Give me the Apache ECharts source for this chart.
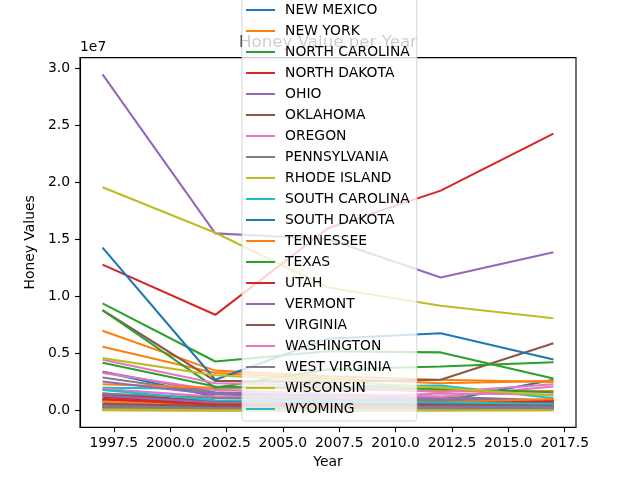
<!DOCTYPE html>
<html><head><meta charset="utf-8">
<script src="https://cdn.jsdelivr.net/npm/echarts@6/dist/echarts.min.js"></script>
<style>html,body{margin:0;padding:0;background:#fff}#c{width:640px;height:480px}</style>
</head><body><div id="c"></div><script>
const years = [1997, 2002, 2007, 2012, 2017];
const xTicks = [1997.5, 2000, 2002.5, 2005, 2007.5, 2010, 2012.5, 2015, 2017.5];
const yTicks = [0, 5e6, 10e6, 15e6, 20e6, 25e6, 30e6];
const states = ["ALABAMA","ALASKA","ARIZONA","ARKANSAS","CALIFORNIA","COLORADO","CONNECTICUT","DELAWARE","FLORIDA","GEORGIA","HAWAII","IDAHO","ILLINOIS","INDIANA","IOWA","KANSAS","KENTUCKY","LOUISIANA","MAINE","MARYLAND","MASSACHUSETTS","MICHIGAN","MINNESOTA","MISSISSIPPI","MISSOURI","MONTANA","NEBRASKA","NEVADA","NEW HAMPSHIRE","NEW JERSEY","NEW MEXICO","NEW YORK","NORTH CAROLINA","NORTH DAKOTA","OHIO","OKLAHOMA","OREGON","PENNSYLVANIA","RHODE ISLAND","SOUTH CAROLINA","SOUTH DAKOTA","TENNESSEE","TEXAS","UTAH","VERMONT","VIRGINIA","WASHINGTON","WEST VIRGINIA","WISCONSIN","WYOMING"];

// honey values per state (dollars), for the years above
const ALABAMA = [1.4e6, 0.7e6, 0.6e6, 0.5e6, 0.5e6];
const ALASKA = [0.02e6, 0.01e6, 0.01e6, 0.02e6, 0.02e6];
const ARIZONA = [1.0e6, 0.6e6, 0.5e6, 0.4e6, 0.3e6];
const ARKANSAS = [1.5e6, 0.8e6, 0.9e6, 0.7e6, 0.6e6];
const CALIFORNIA = [29.5e6, 15.55e6, 15.05e6, 11.67e6, 13.9e6];
const COLORADO = [1.3e6, 0.8e6, 0.7e6, 0.6e6, 0.6e6];
const CONNECTICUT = [0.2e6, 0.1e6, 0.1e6, 0.1e6, 0.2e6];
const DELAWARE = [0.05e6, 0.03e6, 0.03e6, 0.03e6, 0.05e6];
const FLORIDA = [19.6e6, 15.6e6, 10.8e6, 9.2e6, 8.1e6];
const GEORGIA = [2.0e6, 1.9e6, 2.1e6, 2.2e6, 1.08e6];
const HAWAII = [3.4e6, 1.2e6, 0.9e6, 0.8e6, 2.7e6];
const IDAHO = [7.0e6, 3.5e6, 3.0e6, 2.7e6, 2.5e6];
const ILLINOIS = [0.9e6, 0.5e6, 0.5e6, 0.4e6, 0.5e6];
const INDIANA = [0.9e6, 0.5e6, 0.6e6, 0.9e6, 0.9e6];
const IOWA = [3.4e6, 1.6e6, 1.3e6, 1.0e6, 0.8e6];
const KANSAS = [0.9e6, 0.5e6, 0.4e6, 0.5e6, 0.4e6];
const KENTUCKY = [0.7e6, 0.5e6, 0.4e6, 0.5e6, 0.6e6];
const LOUISIANA = [2.9e6, 1.5e6, 1.3e6, 1.2e6, 0.9e6];
const MAINE = [0.3e6, 0.2e6, 0.2e6, 0.3e6, 0.3e6];
const MARYLAND = [0.3e6, 0.2e6, 0.2e6, 0.2e6, 0.2e6];
const MASSACHUSETTS = [0.3e6, 0.2e6, 0.2e6, 0.2e6, 0.3e6];
const MICHIGAN = [5.6e6, 3.3e6, 2.8e6, 2.4e6, 2.6e6];
const MINNESOTA = [9.4e6, 4.3e6, 5.2e6, 5.1e6, 2.8e6];
const MISSISSIPPI = [1.2e6, 0.6e6, 0.6e6, 0.8e6, 0.75e6];
const MISSOURI = [1.3e6, 0.7e6, 0.6e6, 0.6e6, 0.5e6];
const MONTANA = [8.8e6, 2.6e6, 2.5e6, 2.7e6, 5.9e6];
const NEBRASKA = [3.3e6, 1.8e6, 1.5e6, 1.2e6, 2.1e6];
const NEVADA = [0.2e6, 0.1e6, 0.1e6, 0.1e6, 0.1e6];
const NEW_HAMPSHIRE = [0.1e6, 0.1e6, 0.1e6, 0.1e6, 0.1e6];
const NEW_JERSEY = [0.4e6, 0.3e6, 0.3e6, 0.3e6, 0.3e6];
const NEW_MEXICO = [0.5e6, 0.3e6, 0.3e6, 0.3e6, 0.2e6];
const NEW_YORK = [2.3e6, 2.0e6, 1.9e6, 1.7e6, 1.7e6];
const NORTH_CAROLINA = [8.8e6, 2.0e6, 3.6e6, 3.86e6, 4.24e6];
const NORTH_DAKOTA = [12.8e6, 8.4e6, 16.0e6, 19.3e6, 24.3e6];
const OHIO = [2.55e6, 1.4e6, 1.2e6, 1.0e6, 0.9e6];
const OKLAHOMA = [0.4e6, 0.3e6, 0.3e6, 0.3e6, 0.3e6];
const OREGON = [1.9e6, 1.2e6, 1.1e6, 1.5e6, 1.4e6];
const PENNSYLVANIA = [1.5e6, 1.1e6, 1.0e6, 0.9e6, 0.8e6];
const RHODE_ISLAND = [0.05e6, 0.03e6, 0.03e6, 0.03e6, 0.03e6];
const SOUTH_CAROLINA = [0.5e6, 0.3e6, 0.3e6, 0.4e6, 0.4e6];
const SOUTH_DAKOTA = [14.3e6, 2.7e6, 6.3e6, 6.78e6, 4.47e6];
const TENNESSEE = [0.8e6, 0.5e6, 0.6e6, 0.7e6, 1.0e6];
const TEXAS = [4.2e6, 2.1e6, 2.0e6, 1.9e6, 1.6e6];
const UTAH = [1.0e6, 0.5e6, 0.6e6, 0.6e6, 0.8e6];
const VERMONT = [0.5e6, 0.3e6, 0.3e6, 0.3e6, 0.3e6];
const VIRGINIA = [0.6e6, 0.4e6, 0.4e6, 0.5e6, 0.5e6];
const WASHINGTON = [4.45e6, 2.4e6, 2.2e6, 1.6e6, 2.3e6];
const WEST_VIRGINIA = [0.3e6, 0.2e6, 0.2e6, 0.2e6, 0.2e6];
const WISCONSIN = [4.6e6, 3.1e6, 2.6e6, 2.0e6, 1.3e6];
const WYOMING = [1.8e6, 0.9e6, 0.8e6, 0.7e6, 0.6e6];

const stateValues = [ALABAMA, ALASKA, ARIZONA, ARKANSAS, CALIFORNIA, COLORADO, CONNECTICUT, DELAWARE, FLORIDA, GEORGIA, HAWAII, IDAHO, ILLINOIS, INDIANA, IOWA, KANSAS, KENTUCKY, LOUISIANA, MAINE, MARYLAND, MASSACHUSETTS, MICHIGAN, MINNESOTA, MISSISSIPPI, MISSOURI, MONTANA, NEBRASKA, NEVADA, NEW_HAMPSHIRE, NEW_JERSEY, NEW_MEXICO, NEW_YORK, NORTH_CAROLINA, NORTH_DAKOTA, OHIO, OKLAHOMA, OREGON, PENNSYLVANIA, RHODE_ISLAND, SOUTH_CAROLINA, SOUTH_DAKOTA, TENNESSEE, TEXAS, UTAH, VERMONT, VIRGINIA, WASHINGTON, WEST_VIRGINIA, WISCONSIN, WYOMING];

const palette = ['#1f77b4','#ff7f0e','#2ca02c','#d62728','#9467bd','#8c564b','#e377c2','#7f7f7f','#bcbd22','#17becf'];
const FONT = 'DejaVu Sans';

let all = [];
stateValues.forEach(a => all = all.concat(a));
const dMin = Math.min(...all), dMax = Math.max(...all);
const pad = (dMax - dMin) * 0.05;
const xPad = (years[years.length - 1] - years[0]) * 0.05;

const series = states.map((name, i) => ({
  name: name,
  type: 'line',
  data: years.map((y, j) => [y, stateValues[i][j]]),
  showSymbol: false,
  symbol: 'none',
  color: palette[i % 10],
  lineStyle: { width: 2.08, color: palette[i % 10] },
  emphasis: { disabled: true },
  silent: true,
  z: 2
}));

const chart = echarts.init(document.getElementById('c'), null, { renderer: 'canvas' });
chart.setOption({
  animation: false,
  backgroundColor: '#fff',
  grid: { left: 80, right: 64, top: 57.6, bottom: 52.8, show: true, borderColor: '#000', borderWidth: 1.1, backgroundColor: 'transparent' },
  xAxis: {
    type: 'value',
    min: years[0] - xPad, max: years[years.length - 1] + xPad,
    name: 'Year', nameLocation: 'middle', nameGap: 27,
    nameTextStyle: { color: '#000', fontSize: 13.9, fontFamily: FONT },
    axisLine: { show: true, onZero: false, lineStyle: { color: '#000', width: 1.1 } },
    axisTick: { show: true, length: 5, lineStyle: { color: '#000', width: 1.1 }, customValues: xTicks },
    axisLabel: { color: '#000', fontSize: 13.9, fontFamily: FONT, margin: 9, customValues: xTicks, formatter: v => Number(v).toFixed(1) },
    splitLine: { show: false }
  },
  yAxis: {
    type: 'value',
    min: dMin - pad, max: dMax + pad,
    name: 'Honey Values', nameLocation: 'middle', nameGap: 38,
    nameTextStyle: { color: '#000', fontSize: 13.9, fontFamily: FONT },
    axisLine: { show: true, onZero: false, lineStyle: { color: '#000', width: 1.1 } },
    axisTick: { show: true, length: 5, lineStyle: { color: '#000', width: 1.1 }, customValues: yTicks },
    axisLabel: { color: '#000', fontSize: 13.9, fontFamily: FONT, margin: 10, customValues: yTicks, formatter: v => (v / 1e7).toFixed(1) },
    splitLine: { show: false }
  },
  graphic: [
    { type: 'text', x: 328, y: 43, z: 1, silent: true, style: { text: 'Honey Value per Year', fill: '#000', font: '16.67px "DejaVu Sans"', textAlign: 'center', textVerticalAlign: 'middle' } },
    { type: 'text', x: 80, y: 47, z: 1, silent: true, style: { text: '1e7', fill: '#000', font: '13.9px "DejaVu Sans"', textAlign: 'left', textVerticalAlign: 'middle' } }
  ],
  legend: {
    type: 'plain',
    orient: 'vertical',
    left: 242, top: -632, height: 1200,
    data: states,
    selectedMode: false,
    icon: 'rect',
    itemWidth: 29, itemHeight: 2, itemGap: 7,
    padding: [5, 7, 5, 4],
    backgroundColor: 'rgba(255,255,255,0.8)',
    borderColor: 'rgba(204,204,204,0.8)', borderWidth: 1, borderRadius: 3,
    textStyle: { color: '#000', fontSize: 13.9, fontFamily: FONT, lineHeight: 14, padding: [0, 0, 0, 5] },
    z: 10
  },
  series: series
});
</script></body></html>
